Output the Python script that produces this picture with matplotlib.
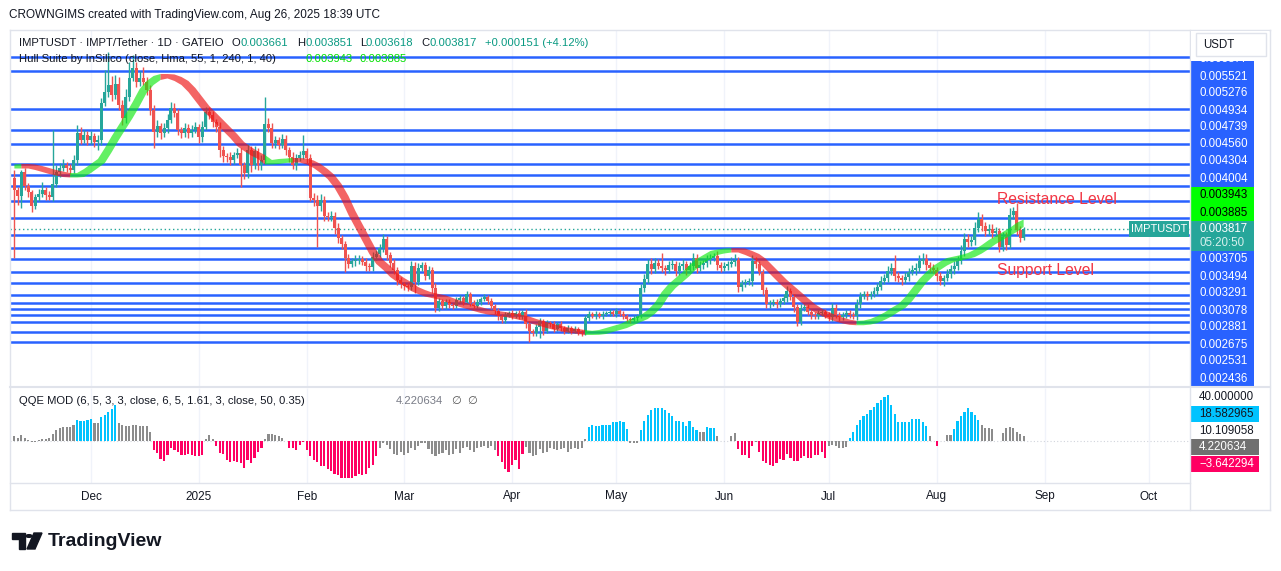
"""IMPTUSDT daily chart with Hull Suite band and QQE MOD histogram."""
import numpy as np
import pandas as pd
import matplotlib
matplotlib.use("Agg")
import matplotlib.pyplot as plt
import matplotlib.dates as mdates
from matplotlib.patches import Rectangle, Polygon, Circle
from matplotlib.lines import Line2D

plt.rcParams["font.family"] = ["Liberation Sans", "DejaVu Sans"]

# ---- data: prices in millionths of USDT ----
FIRST_DAY = "2024-11-09"
FIRST_OPEN = 4693
LAST_OPEN = 3661
CLOSE = [
    4486, 4383, 4796, 4555, 4451, 4210, 4365, 4417, 4486, 4400,
    4365, 4589, 4796, 4865, 4917, 4865, 4831, 5003, 5469, 5348,
    5434, 5348, 5417, 5313, 5348, 5986, 6175, 6296, 6124, 6313,
    5951, 5727, 6089, 6417, 6589, 6348, 6417, 6348, 6210, 5865,
    5486, 5589, 5469, 5555, 5693, 5900, 5813, 5520, 5469, 5555,
    5469, 5520, 5572, 5400, 5572, 5831, 5779, 5658, 5572, 5175,
    5072, 5055, 5003, 5089, 5124, 4917, 4779, 5175, 4917, 5158,
    4917, 5003, 5624, 5555, 5296, 5348, 5262, 5365, 5175, 5055,
    4917, 5038, 5089, 5158, 5038, 4348, 4314, 4210, 4314, 4038,
    4020, 4038, 3831, 3658, 3555, 3314, 3210, 3262, 3279, 3296,
    3245, 3176, 3158, 3331, 3383, 3486, 3641, 3365, 3227, 3107,
    2934, 2865, 2831, 2813, 3176, 2900, 3141, 3193, 3003, 3107,
    2796, 2452, 2572, 2486, 2555, 2503, 2486, 2589, 2624, 2555,
    2693, 2538, 2486, 2555, 2607, 2641, 2572, 2486, 2400, 2314,
    2245, 2331, 2365, 2314, 2365, 2314, 2383, 2176, 2055, 2021,
    2124, 2227, 2055, 2193, 2176, 2090, 2176, 2107, 2055, 2107,
    2055, 2090, 2038, 2021, 2279, 2348, 2314, 2348, 2314, 2348,
    2365, 2383, 2348, 2400, 2348, 2314, 2262, 2245, 2279, 2314,
    2796, 2951, 3210, 3124, 3227, 3176, 3141, 3107, 3193, 3210,
    3089, 3176, 3210, 3107, 3176, 3314, 3141, 3193, 3227, 3279,
    3314, 3348, 3193, 3141, 3176, 3210, 3245, 3279, 2813, 2882,
    2900, 2917, 3262, 3210, 3072, 2762, 2520, 2538, 2555, 2520,
    2572, 2624, 2745, 2641, 2469, 2210, 2452, 2469, 2383, 2331,
    2314, 2365, 2383, 2331, 2296, 2452, 2331, 2296, 2331, 2365,
    2331, 2314, 2520, 2658, 2693, 2658, 2693, 2745, 2814, 2917,
    2969, 3089, 3141, 3003, 2969, 2934, 2986, 3072, 3107, 3141,
    3262, 3296, 3193, 3141, 3107, 3003, 2917, 2969, 3038, 3124,
    3176, 3262, 3434, 3641, 3589, 3624, 3831, 3986, 3865, 3779,
    3814, 3745, 3779, 3503, 3676, 3538, 4055, 4124, 3796, 3666,
    3817,
]
WICK_UP = [
    138, 60, 35, 70, 50, 40, 60, 80, 146, 50,
    60, 931, 120, 80, 100, 50, 70, 90, 137, 100,
    80, 70, 90, 60, 80, 86, 380, 569, 150, 160,
    120, 90, 140, 276, 224, 100, 120, 189, 90, 80,
    80, 100, 60, 80, 110, 103, 90, 70, 60, 80,
    70, 90, 80, 60, 100, 86, 90, 70, 60, 80,
    70, 50, 80, 60, 90, 80, 60, 110, 70, 90,
    60, 80, 465, 100, 80, 70, 60, 90, 70, 60,
    80, 60, 70, 276, 60, 70, 80, 90, 100, 60,
    70, 80, 60, 90, 50, 60, 70, 60, 80, 70,
    60, 70, 50, 80, 60, 70, 86, 60, 50, 70,
    60, 50, 40, 60, 90, 70, 80, 60, 50, 70,
    60, 80, 50, 40, 60, 50, 40, 60, 50, 40,
    50, 40, 60, 50, 40, 50, 40, 50, 40, 50,
    40, 50, 40, 60, 40, 50, 40, 60, 50, 40,
    50, 60, 40, 50, 40, 50, 40, 50, 40, 50,
    40, 50, 40, 40, 60, 50, 40, 50, 40, 50,
    40, 50, 40, 50, 40, 50, 40, 40, 50, 40,
    70, 80, 90, 110, 80, 70, 224, 60, 70, 80,
    60, 70, 80, 60, 70, 90, 60, 70, 60, 80,
    70, 60, 90, 60, 70, 60, 80, 100, 60, 50,
    60, 50, 100, 70, 60, 50, 60, 50, 60, 50,
    60, 70, 80, 60, 50, 60, 70, 60, 50, 60,
    50, 60, 50, 60, 50, 80, 60, 50, 60, 50,
    60, 50, 80, 70, 60, 50, 60, 70, 60, 80,
    70, 90, 80, 224, 70, 60, 80, 70, 90, 80,
    100, 104, 80, 60, 70, 60, 70, 60, 80, 70,
    80, 90, 100, 110, 80, 70, 100, 120, 80, 70,
    80, 90, 70, 60, 80, 90, 121, 69, 138, 70,
    34,
]
WICK_DN = [
    1172, 156, 207, 70, 80, 103, 60, 70, 50, 90,
    60, 70, 50, 80, 60, 70, 90, 60, 80, 70,
    60, 80, 70, 90, 138, 80, 60, 90, 100, 70,
    80, 120, 90, 70, 60, 80, 70, 60, 80, 90,
    276, 90, 100, 70, 80, 60, 70, 90, 80, 70,
    90, 70, 60, 100, 80, 60, 70, 90, 80, 120,
    100, 80, 90, 70, 60, 379, 100, 80, 120, 70,
    90, 80, 60, 70, 90, 80, 70, 60, 80, 90,
    70, 80, 60, 70, 90, 60, 100, 707, 80, 90,
    70, 60, 100, 80, 90, 242, 70, 60, 80, 70,
    60, 80, 70, 60, 50, 60, 70, 80, 60, 70,
    80, 60, 70, 60, 50, 190, 60, 50, 70, 60,
    80, 69, 60, 50, 60, 50, 60, 40, 50, 60,
    40, 60, 50, 40, 50, 40, 60, 50, 60, 70,
    60, 50, 40, 60, 40, 50, 60, 70, 190, 60,
    50, 190, 70, 40, 50, 60, 40, 50, 60, 40,
    50, 40, 60, 50, 40, 50, 40, 50, 40, 50,
    40, 50, 40, 50, 40, 50, 60, 50, 40, 50,
    40, 60, 70, 80, 70, 60, 70, 80, 60, 70,
    80, 60, 70, 80, 60, 70, 80, 60, 70, 60,
    70, 60, 80, 70, 60, 70, 60, 70, 86, 60,
    70, 60, 80, 70, 60, 80, 70, 60, 50, 60,
    50, 60, 70, 60, 80, 69, 60, 50, 60, 70,
    50, 60, 50, 60, 70, 60, 50, 60, 50, 60,
    50, 60, 70, 60, 50, 60, 50, 60, 70, 60,
    60, 70, 60, 80, 70, 80, 60, 70, 60, 80,
    70, 60, 80, 70, 60, 80, 70, 80, 60, 70,
    80, 70, 60, 80, 90, 70, 80, 70, 90, 80,
    70, 80, 60, 90, 70, 80, 60, 70, 90, 80,
    43,
]
# Hull Suite (HMA 55), one value every second day
HULL = [
    4891, 4900, 4891, 4865, 4831, 4796, 4770, 4744, 4736, 4744,
    4813, 4900, 4986, 5176, 5382, 5572, 5762, 5969, 6193, 6331,
    6417, 6451, 6443, 6400, 6331, 6210, 6055, 5900, 5779, 5658,
    5537, 5417, 5279, 5193, 5115, 5055, 4960, 4969, 4986, 4994,
    5003, 4994, 4960, 4900, 4813, 4710, 4555, 4348, 4089, 3865,
    3641, 3417, 3245, 3141, 3020, 2934, 2865, 2779, 2727, 2684,
    2658, 2633, 2589, 2546, 2503, 2469, 2434, 2400, 2374, 2357,
    2340, 2322, 2296, 2270, 2227, 2193, 2158, 2124, 2098, 2072,
    2055, 2038, 2021, 2024, 2038, 2072, 2107, 2141, 2193, 2245,
    2296, 2383, 2503, 2693, 2831, 2934, 3038, 3158, 3262, 3331,
    3400, 3426, 3443, 3448, 3443, 3400, 3348, 3262, 3141, 3020,
    2900, 2796, 2693, 2589, 2486, 2408, 2348, 2296, 2253, 2219,
    2196, 2189, 2201, 2227, 2279, 2339, 2417, 2486, 2607, 2762,
    2917, 3038, 3141, 3219, 3279, 3305, 3331, 3365, 3426, 3503,
    3589, 3658, 3727, 3796, 3885, 3943,
]
# horizontal support / resistance lines (USDT)
LEVELS = [0.006779, 0.006538, 0.005877, 0.005521, 0.005276, 0.004934,
          0.004739, 0.004560, 0.004304, 0.004004, 0.003705, 0.003494,
          0.003291, 0.003078, 0.002881, 0.002675, 0.002531, 0.002436,
          0.002336, 0.002215, 0.002038, 0.001865]
QQE = [
    4, 3, 5, 3, 1, -1, -1, 1, 2, 2,
    3, 6, 9, 11, 12, 12, 12, 14, 18, 17,
    17, 18, 19, 15, 15, 20, 22, 25, 27, 31,
    15, 14, 13, 13, 14, 14, 13, 13, 13, 8,
    -8, -10, -15, -17, -12, -6, -8, -9, -12, -12,
    -11, -12, -13, -13, -12, 2, 5, 2, -4, -10,
    -11, -16, -18, -17, -18, -19, -23, -16, -19, -14,
    -9, -6, 2, 6, 6, 5, 4, 3, 0, -6,
    -6, -8, -3, -1, -8, -13, -16, -18, -21, -21,
    -24, -25, -28, -29, -31, -31, -31, -31, -30, -28,
    -29, -28, -23, -20, -13, -6, -2, -3, -7, -11,
    -12, -9, -12, -10, -6, -8, -4, -2, -2, -7,
    -11, -13, -11, -10, -8, -12, -11, -7, -10, -6,
    -5, -8, -9, -6, -5, -4, -6, -4, -8, -13,
    -18, -24, -26, -20, -16, -24, -11, -5, -10, -13,
    -12, -7, -10, -9, -6, -7, -8, -7, -6, -9,
    -7, -6, -7, -6, 2, 12, 14, 13, 13, 14,
    14, 14, 16, 16, 17, 16, 10, -2, -2, -2,
    9, 17, 22, 26, 28, 28, 28, 26, 24, 21,
    17, 17, 16, 13, 17, 12, 9, 8, 8, 12,
    11, 11, 4, 0, 0, 0, 4, 7, -7, -12,
    -12, -14, -4, -1, -9, -17, -19, -20, -21, -19,
    -15, -16, -11, -14, -17, -17, -14, -13, -14, -14,
    -12, -12, -9, -14, -4, -3, -4, -6, -6, -5,
    3, 8, 14, 18, 21, 23, 26, 29, 32, 35,
    37, 39, 31, 23, 16, 16, 16, 16, 19, 19,
    19, 16, 13, 4, 0, -4, 0, 0, 5, 5,
    10, 17, 21, 25, 28, 25, 22, 18, 14, 11,
    11, 10, 0, 0, 7, 11, 12, 11, 8, 6,
    4.220634,
]
QQE_COLOR = (
    "gggggggggg" "ggggggggbb" "bbbggbbbbb" "gggggggggg" "pppppppppp"
    "pppppgggpp" "pppppppppp" "ppgggggggp" "pppppppppp" "pppppppppp"
    "pppppggggg" "gggggggggg" "gggggggggg" "gggggggggp" "pppppppggg"
    "gggggggggg" "gggggbbbbb" "bbbbbbbggg" "bbbbbbbbbb" "bbbbbbbggb"
    "bbggggggpp" "pppgpppppp" "pppppppppp" "ppppgggggg" "bbbbbbbbbb"
    "bbbbbbbbbb" "bbbggpgggg" "bbbbbbbbgg" "gggggggggg" "g"
)
QQE_AXIS = ["40.000000", "18.582965", "10.109058", "4.220634", "\u22123.642294"]
MONTHS = ["Dec", "2025", "Feb", "Mar", "Apr", "May", "Jun", "Jul", "Aug", "Sep", "Oct"]
COUNTDOWN = "05:20:50"

TEAL, RED, BLUE = "#26a69a", "#ef5350", "#2962ff"
DARK, BORDER = "#131722", "#e0e3eb"
W, H = 1281, 571


def fx(px):
    return px / W


def fy(py):
    return 1 - py / H


def box(x0, y0, x1, y1):
    return [fx(x0), fy(y1), (x1 - x0) / W, (y1 - y0) / H]


def px_rect(fig, x0, y0, x1, y1, color, z=5, ec="none", lw=0):
    fig.add_artist(Rectangle((fx(x0), fy(y1)), (x1 - x0) / W, (y1 - y0) / H,
                             transform=fig.transFigure, facecolor=color,
                             edgecolor=ec, lw=lw, zorder=z))


def px_text(fig, x, y, s, size=8.5, color=DARK, z=6, **kw):
    fig.text(fx(x), fy(y), s, fontsize=size, color=color, va="center",
             zorder=z, **kw)


def px_line(fig, xs, ys, color=BORDER, lw=1.0, z=7):
    fig.add_artist(Line2D([fx(v) for v in xs], [fy(v) for v in ys],
                          color=color, lw=lw, transform=fig.transFigure, zorder=z))


close = np.array(CLOSE) / 1e6
opn = np.r_[FIRST_OPEN, CLOSE[:-1]] / 1e6
opn[-1] = LAST_OPEN / 1e6
high = np.maximum(opn, close) + np.array(WICK_UP) / 1e6
low = np.minimum(opn, close) - np.array(WICK_DN) / 1e6
dates = pd.date_range(FIRST_DAY, periods=len(CLOSE), freq="D")
xs = mdates.date2num(dates)
x_lo, x_hi = xs[0] - 1.26, xs[0] + 337.8
y_lo, y_hi = 0.001107, 0.007244
q_lo, q_hi = -35.6, 45
month_x = mdates.date2num(pd.date_range("2024-12-01", periods=len(MONTHS), freq="MS"))

fig = plt.figure(figsize=(W / 100, H / 100), dpi=100)
fig.patch.set_facecolor("white")

ax = fig.add_axes(box(10, 30, 1190, 386))
ax2 = fig.add_axes(box(10, 388, 1190, 483))
ax3 = fig.add_axes(box(10, 483, 1190, 510))
for a in (ax, ax2, ax3):
    a.set_xlim(x_lo, x_hi)
    a.axis("off")
ax.set_ylim(y_lo, y_hi)
ax2.set_ylim(q_lo, q_hi)
ax3.set_ylim(0, 1)

# grid
ax.vlines(month_x, y_lo, y_hi, color="#f0f3fa", lw=1, zorder=0)
ax2.vlines(month_x, q_lo, q_hi, color="#f0f3fa", lw=1, zorder=0)

# horizontal levels
ax.hlines(LEVELS, x_lo, x_hi, color=BLUE, lw=1.8, zorder=2)
ax.hlines(close[-1], x_lo, x_hi, color=TEAL, lw=1.0, linestyles=(0, (1, 2)), zorder=2)

# candles
up = close >= opn
ccol = np.where(up, TEAL, RED)
ax.vlines(xs, low, high, colors=ccol, lw=1.0, zorder=3)
body = np.maximum(np.abs(close - opn), 1.2e-5)
ax.bar(xs, body, bottom=np.minimum(opn, close), width=0.86, color=ccol, lw=0, zorder=4)

# Hull Suite band between MHULL and SHULL (2 bars back)
hx = xs[::2]
hull = np.array(HULL) / 1e6
shull = np.r_[hull[0], hull[:-1]]
pad = 2.0 * (y_hi - y_lo) / 356
top = np.maximum(hull, shull) + pad
bot = np.minimum(hull, shull) - pad
rising = hull >= shull
k = 1
while k < len(hull):
    j = k
    while j + 1 < len(hull) and rising[j + 1] == rising[k]:
        j += 1
    idx = np.arange(k - 1, j + 1)
    verts = np.r_[np.c_[hx[idx], top[idx]], np.c_[hx[idx][::-1], bot[idx][::-1]]]
    col = "#10e810" if rising[k] else "#ee1111"
    ax.add_patch(Polygon(verts, closed=True, facecolor=col, edgecolor="none",
                         alpha=0.65, zorder=5))
    k = j + 1

ax.text(mdates.date2num(pd.Timestamp("2025-08-18 06:00")), 0.004320, "Resistance Level",
        color="#f23645", fontsize=11.3, va="center", ha="left", zorder=6)
ax.text(mdates.date2num(pd.Timestamp("2025-08-18 06:00")), 0.003090, "Support Level",
        color="#f23645", fontsize=11.3, va="center", ha="left", zorder=6)

# QQE MOD histogram
qcol = {"b": "#00c3ff", "p": "#ff0062", "g": "#8c8c8c"}
ax2.bar(xs, QQE, width=0.62, color=[qcol[c] for c in QQE_COLOR], lw=0, zorder=3)
ax2.axhline(0, color="#d1d4dc", lw=0.8, ls=(0, (1, 2)), zorder=1)

# time axis labels
for mx, lab in zip(month_x, MONTHS):
    ax3.text(mx, 0.5, lab, ha="center", va="center", fontsize=8.5, color=DARK)

# frame
px_line(fig, [10, 1270], [30, 30])
px_line(fig, [10, 1270], [510, 510])
px_line(fig, [10, 10], [30, 510])
px_line(fig, [1270, 1270], [30, 510])
px_line(fig, [1190, 1190], [30, 510])
px_line(fig, [10, 1270], [387, 387], lw=1.5)
px_line(fig, [10, 1190], [483, 483])

# header and legends
px_text(fig, 9, 15, "CROWNGIMS created with TradingView.com, Aug 26, 2025 18:39 UTC", size=8.5)
chg = close[-1] - close[-2]
LEG = 8.1
legend1 = [
    (19, "IMPTUSDT \u00b7 IMPT/Tether \u00b7 1D \u00b7 GATEIO", DARK),
    (232, "O", DARK), (241, f"{opn[-1]:.6f}", "#089981"),
    (297, "H", DARK), (305, f"{high[-1]:.6f}", "#089981"),
    (360, "L", DARK), (366, f"{low[-1]:.6f}", "#089981"),
    (421, "C", DARK), (429, f"{close[-1]:.6f}", "#089981"),
    (485, f"+{chg:.6f} (+{chg / close[-2] * 100:.2f}%)", "#089981"),
]
for lx, s, c in legend1:
    px_text(fig, lx, 42.5, s, size=LEG, color=c)
px_text(fig, 19, 58.5, "Hull Suite by InSilico (close, Hma, 55, 1, 240, 1, 40)", size=LEG)
px_text(fig, 305, 58.5, f"{hull[-1]:.6f}", size=LEG, color="#00e000")
px_text(fig, 360, 58.5, f"{hull[-2]:.6f}", size=LEG, color="#00e000")
px_text(fig, 19, 400.5, "QQE MOD (6, 5, 3, 3, close, 6, 5, 1.61, 3, close, 50, 0.35)", size=LEG)
px_text(fig, 396, 400.5, f"{QQE[-1]:.6f}", size=LEG, color="#787b86")
px_text(fig, 452, 400.5, "\u2205  \u2205", size=LEG, color="#555555")

# right price scale labels
stack = [(f"{v:.6f}", BLUE, "white") for v in LEVELS[2:10]]
stack += [(f"{hull[-1]:.6f}", "#00ff00", "black"), (f"{hull[-2]:.6f}", "#00ff00", "black")]
stack += [("last", TEAL, "white")]
stack += [(f"{v:.6f}", BLUE, "white") for v in LEVELS[10:18]]
cy = 51
for s, bg, fg in stack:
    h = 30 if s == "last" else 17
    px_rect(fig, 1191, cy, 1254, cy + h, bg, z=5)
    if s == "last":
        px_text(fig, 1199, cy + 8, f"{close[-1]:.6f}", size=8.3, color=fg)
        px_text(fig, 1199, cy + 22, COUNTDOWN, size=8.3, color="#d6f0ed")
    else:
        px_text(fig, 1199, cy + h / 2, s, size=8.3, color=fg)
    cy += h
px_rect(fig, 1191, 31, 1269, 61, "white", z=8)
px_rect(fig, 1196, 33, 1266, 56, "white", z=9, ec=BORDER, lw=1)
px_text(fig, 1203, 44.5, "USDT", size=8.3, z=10)

# last price pill
px_rect(fig, 1129, 221, 1189, 237, TEAL, z=6)
px_text(fig, 1159, 229, "IMPTUSDT", size=7.9, color="white", z=7, ha="center")

# indicator scale labels
q_bg = [None, "#00c3ff", None, "#707070", "#ff0062"]
q_fg = [DARK, DARK, DARK, "white", "white"]
for n, (s, bg, fg) in enumerate(zip(QQE_AXIS, q_bg, q_fg)):
    yc = 397 + n * 16.8
    if bg:
        px_rect(fig, 1191, yc - 8, 1259, yc + 8, bg, z=5)
    px_text(fig, 1199, yc, s, size=8.3, color=fg)

# TradingView logo
logo = [(12, 533), (25, 533), (25, 549), (19, 549), (19, 539), (12, 539)]
fig.add_artist(Polygon([(fx(a), fy(b)) for a, b in logo], closed=True,
                       transform=fig.transFigure, color=DARK, zorder=5))
fig.add_artist(Circle((fx(29), fy(536)), 3 / W, transform=fig.transFigure,
                      color=DARK, zorder=5))
slash = [(34, 533), (42, 533), (35, 549), (27, 549)]
fig.add_artist(Polygon([(fx(a), fy(b)) for a, b in slash], closed=True,
                       transform=fig.transFigure, color=DARK, zorder=5))
px_text(fig, 48, 541, "TradingView", size=14, weight="bold")

fig.savefig("out.png", dpi=100, facecolor="white")
